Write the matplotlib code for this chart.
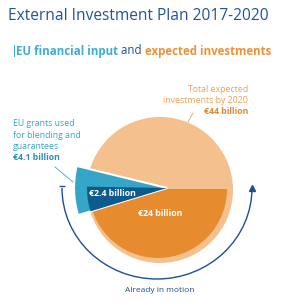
import matplotlib
matplotlib.use('Agg')
import matplotlib.pyplot as plt
from matplotlib.patches import Wedge, Circle, Arc, Rectangle

# values in EUR billion
total_expected = 44
already_moving = 24
eu_grants = 4.1
eu_blending = 2.4

labels = {
    'total': ['Total expected', 'investments by 2020'],
    'grants': ['EU grants used', 'for blending and', 'guarantees'],
}

light_orange = '#f3c08e'
dark_orange = '#e68b2e'
teal = '#36a6c8'
dark_blue = '#0d5b8c'
navy = '#1f4e99'

plt.rcParams['font.family'] = ['Open Sans', 'DejaVu Sans']

fig = plt.figure(figsize=(2.82, 3.06), dpi=100)
ax = fig.add_axes([0, 0, 1, 1])
ax.set_xlim(0, 282)
ax.set_ylim(306, 0)
ax.set_aspect('equal')
ax.axis('off')

# degrees per billion (infographic scale, half disc = 24bn)
deg = 180 / already_moving

# whole pie: total expected investments
ax.add_patch(Circle((160, 190), 73, color=light_orange, lw=0))
# already in motion (lower half, y axis points down)
ax.add_patch(Wedge((158, 189), 69, 0, already_moving * deg, color=dark_orange, lw=0))
# EU grants wedge, pulled out to the left
start = 163
ax.add_patch(Wedge((167, 188), 93, start, start + eu_grants * deg,
                   facecolor=teal, edgecolor='white', lw=1.5))
ax.add_patch(Wedge((167, 188), 80, start, start + eu_blending * deg,
                   facecolor=dark_blue, lw=0))

# arc with arrow
ax.add_patch(Arc((157, 188), 190, 182, theta1=0, theta2=180, color=navy, lw=1))
ax.plot([252], [188], marker='^', color=navy, ms=4)
ax.plot([62], [186], marker='_', color=navy, ms=4, mew=1)
ax.text(160, 290, 'Already in motion', color=navy, fontsize=6, ha='center', va='center')

# title
ax.text(8, 16, 'External Investment Plan 2017-2020', color='#2253a0', fontsize=11.2,
        ha='left', va='center')

# subtitle in three colours
fig.canvas.draw()
r = fig.canvas.get_renderer()
x = 16
parts = [('EU financial input', '#3fadd0', 'bold'),
         (' and ', navy, 'normal'),
         ('expected investments', '#ef9233', 'bold')]
ax.add_patch(Rectangle((13.5, 45), 1.2, 12, color='#3fadd0', lw=0))
for s, c, w in parts:
    t = ax.text(x, 51, s, color=c, fontsize=8.3, fontweight=w, ha='left', va='center')
    bb = t.get_window_extent(renderer=r)
    x += bb.width

# right label
for i, line in enumerate(labels['total']):
    ax.text(248, 90 + i * 10.5, line, color='#ef9f55', fontsize=6.3, ha='right', va='center')
ax.text(248, 111, '€%d billion' % total_expected, color='#e2872c', fontsize=6.3,
        fontweight='bold', ha='right', va='center')
ax.plot([193, 188], [113, 122], color='#e8a060', lw=0.6)

# left label
for i, line in enumerate(labels['grants']):
    ax.text(13, 124 + i * 11.2, line, color=teal, fontsize=6.3, ha='left', va='center')
ax.text(13, 158, '€%.1f billion' % eu_grants, color='#2f8fb0', fontsize=6.3,
        fontweight='bold', ha='left', va='center')
ax.plot([55, 73], [167, 182], color=teal, lw=0.6)

# values on pie
ax.text(89, 193, '€%.1f billion' % eu_blending, color='white', fontsize=6.3,
        fontweight='bold', ha='left', va='center')
ax.text(160, 214, '€%d billion' % already_moving, color='white', fontsize=6.3,
        fontweight='bold', ha='center', va='center')

fig.savefig('out.png', dpi=100)
